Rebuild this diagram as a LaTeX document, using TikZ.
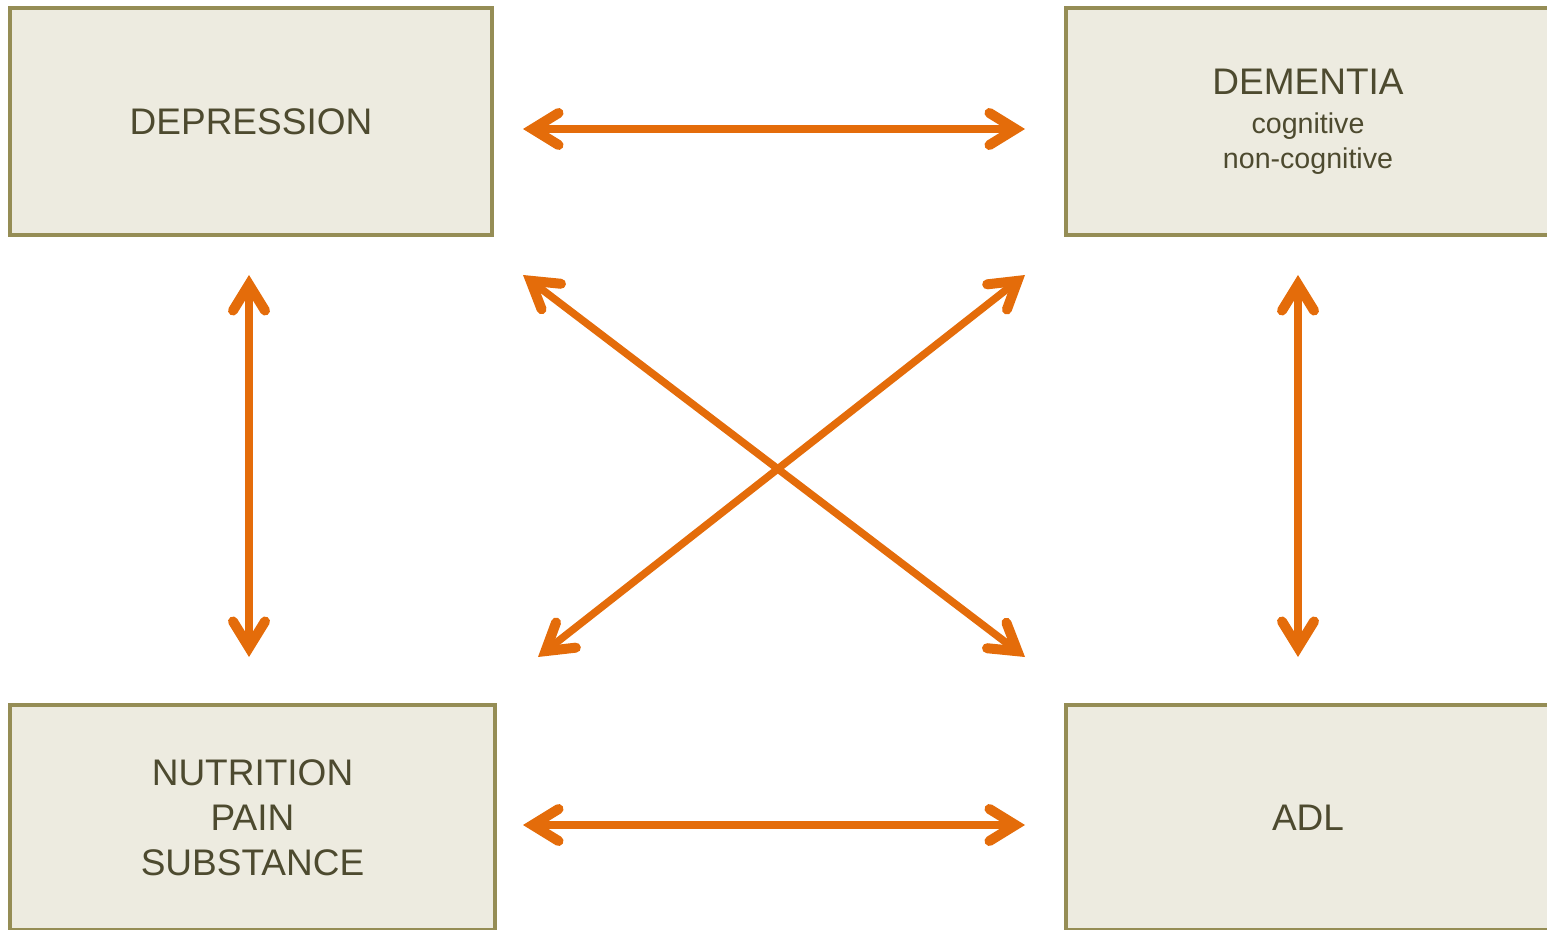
\documentclass[tikz,border=0pt]{standalone}
\usepackage{fontspec}
\setmainfont{Liberation Sans}
\usetikzlibrary{arrows.meta}
\definecolor{boxfill}{HTML}{EDEBE0}
\definecolor{boxline}{HTML}{958D55}
\definecolor{txt}{HTML}{4D4A2F}
\definecolor{arr}{HTML}{E46C0A}
\tikzset{
  barb/.tip={Straight Barb[length=13pt,width=16pt,line width'=5pt,line cap=round,line join=miter]},
  box/.style={draw=boxline, fill=boxfill, line width=2pt, text=txt, align=center,
    inner sep=0pt, font=\fontsize{18.5}{22.5}\selectfont},
  link/.style={draw=arr, line width=3.75pt, barb-barb}
}
\begin{document}
\begin{tikzpicture}[x=0.5pt,y=-0.5pt]
\useasboundingbox (0,0) rectangle (1547,930);
\node[box, minimum width=241pt, minimum height=113.5pt] (dep) at (251,121.5) {DEPRESSION};
\node[box, minimum width=242pt, minimum height=113.5pt] (dem) at (1308,121.5)
  {DEMENTIA\\[-3pt]{\fontsize{14.3}{17.5}\selectfont cognitive}\\[-5pt]{\fontsize{14.3}{17.5}\selectfont non-cognitive}};
\node[box, minimum width=242.5pt, minimum height=112.5pt] (nut) at (252.5,817.5) {NUTRITION\\PAIN\\SUBSTANCE};
\node[box, minimum width=242pt, minimum height=112.5pt] (adl) at (1308,817.5) {ADL};
\coordinate (depR) at (523,129);
\coordinate (demL) at (1025,129);
\coordinate (nutR) at (523,825);
\coordinate (adlL) at (1025,825);
\coordinate (depB) at (249,275);
\coordinate (nutT) at (249,657);
\coordinate (demB) at (1298,275);
\coordinate (adlT) at (1298,657);
\coordinate (depD) at (523,275);
\coordinate (adlD) at (1025,657);
\coordinate (demD) at (1025,275);
\coordinate (nutD) at (538,657);
\draw[link] (depR) -- (demL);
\draw[link] (nutR) -- (adlL);
\draw[link] (depB) -- (nutT);
\draw[link] (demB) -- (adlT);
\draw[link] (depD) -- (adlD);
\draw[link] (demD) -- (nutD);
\end{tikzpicture}
\end{document}
